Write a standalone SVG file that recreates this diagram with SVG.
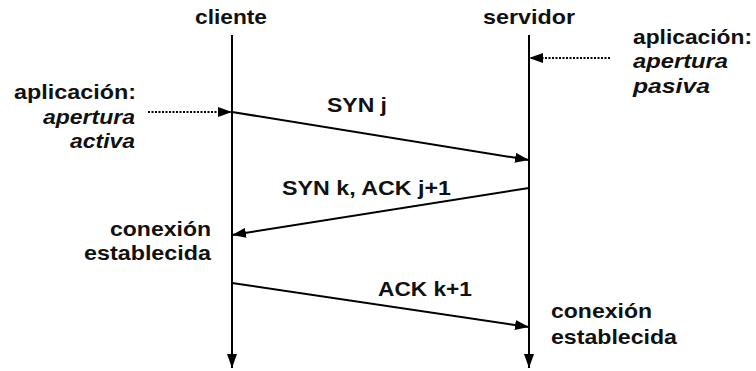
<svg xmlns="http://www.w3.org/2000/svg" width="756" height="371" viewBox="0 0 756 371">
<defs>
<marker id="ah" markerWidth="14" markerHeight="10" refX="14" refY="5" orient="auto" markerUnits="userSpaceOnUse">
<path d="M0,0 L14,5 L0,10 Z" fill="#000"/>
</marker>
<style>
text{font-family:"Liberation Sans",Arial,sans-serif;font-size:21px;font-weight:bold;fill:#111}
.i{font-style:italic}
.ln{stroke:#000;stroke-width:2;fill:none}
.dt{stroke:#000;stroke-width:2;stroke-dasharray:2,1.5;fill:none}
</style>
</defs>
<rect width="756" height="371" fill="#fff"/>
<g id="cliente">
<text x="195" y="24" textLength="72" lengthAdjust="spacingAndGlyphs">cliente</text>
</g>
<g id="servidor">
<text x="483" y="24" textLength="92" lengthAdjust="spacingAndGlyphs">servidor</text>
</g>
<g id="app-cliente">
<text x="14" y="99" textLength="122" lengthAdjust="spacingAndGlyphs">aplicación:</text>
<text class="i" x="43" y="124" textLength="92" lengthAdjust="spacingAndGlyphs">apertura</text>
<text class="i" x="70" y="148" textLength="65" lengthAdjust="spacingAndGlyphs">activa</text>
</g>
<g id="app-servidor">
<text x="633" y="44" textLength="119" lengthAdjust="spacingAndGlyphs">aplicación:</text>
<text class="i" x="633" y="68" textLength="95" lengthAdjust="spacingAndGlyphs">apertura</text>
<text class="i" x="633" y="93" textLength="77" lengthAdjust="spacingAndGlyphs">pasiva</text>
</g>
<g id="conexion-cliente">
<text x="110" y="236" textLength="101" lengthAdjust="spacingAndGlyphs">conexión</text>
<text x="84" y="260" textLength="127" lengthAdjust="spacingAndGlyphs">establecida</text>
</g>
<g id="conexion-servidor">
<text x="551" y="318" textLength="101" lengthAdjust="spacingAndGlyphs">conexión</text>
<text x="551" y="344" textLength="126" lengthAdjust="spacingAndGlyphs">establecida</text>
</g>
<g id="labels">
<text x="327" y="112" textLength="60" lengthAdjust="spacingAndGlyphs">SYN j</text>
<text x="282" y="195" textLength="169" lengthAdjust="spacingAndGlyphs">SYN k, ACK j+1</text>
<text x="378" y="296" textLength="94" lengthAdjust="spacingAndGlyphs">ACK k+1</text>
</g>
<g id="connectors">
<line class="ln" x1="232" y1="35" x2="232" y2="368" marker-end="url(#ah)"/>
<line class="ln" x1="529" y1="35" x2="529" y2="368" marker-end="url(#ah)"/>
<line class="dt" x1="148" y1="112" x2="232" y2="112" marker-end="url(#ah)"/>
<line class="dt" x1="610" y1="58" x2="529" y2="58" marker-end="url(#ah)"/>
<line class="ln" x1="232" y1="112" x2="529" y2="160" marker-end="url(#ah)"/>
<line class="ln" x1="529" y1="188" x2="232" y2="235" marker-end="url(#ah)"/>
<line class="ln" x1="232" y1="283" x2="529" y2="327" marker-end="url(#ah)"/>
</g>
</svg>
